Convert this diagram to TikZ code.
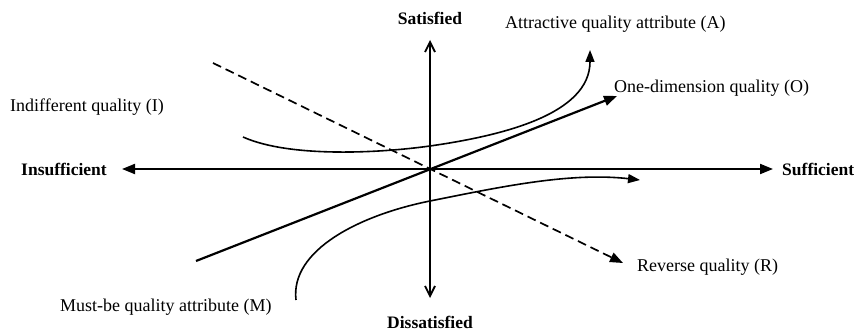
\documentclass[tikz,border=0pt]{standalone}
\usepackage{fontspec}
\setmainfont{Liberation Serif}
\usetikzlibrary{arrows.meta,positioning}

\begin{document}
\begin{tikzpicture}[x=1pt, y=-1pt, every node/.style={font=\fontsize{18}{21}\selectfont, inner sep=0pt},
    axislabel/.style={font=\fontsize{17.5}{21}\selectfont\bfseries},
    curve/.style={line width=1.6pt, -{Triangle[length=12pt,width=9pt]}}]
        \useasboundingbox (0,0) rectangle (858,331);
        % Axes
        \coordinate (o) at (430,169);
        \coordinate (left) at (122,169);
        \coordinate (right) at (773,169);
        \coordinate (top) at (430,40);
        \coordinate (bottom) at (430,298);
        \draw[line width=2pt, -{Triangle[length=13pt,width=10pt]}] (o) -- (left);
        \draw[line width=2pt, -{Triangle[length=13pt,width=10pt]}] (o) -- (right);
        \draw[line width=1.8pt, -{Straight Barb[length=10pt,width=10pt]}] (o) -- (top);
        \draw[line width=1.8pt, -{Straight Barb[length=10pt,width=10pt]}] (o) -- (bottom);
        \node[axislabel] (insuf) at (64,169) {Insufficient};
        \node[axislabel, anchor=west] (suf) at (782,169) {Sufficient};
        \node[axislabel] (sat) at (430,18) {Satisfied};
        \node[axislabel] (dissat) at (430,322) {Dissatisfied};
        % Labels
        \node[anchor=west] (indiff) at (10,107) {Indifferent quality (I)};
        \node[anchor=west] (attr) at (505,24) {Attractive quality attribute (A)};
        \node[anchor=west] (onedim) at (614,88) {One-dimension quality (O)};
        \node[anchor=west] (rev) at (637,267) {Reverse quality (R)};
        \node[anchor=west] (must) at (60,307) {Must-be quality attribute (M)};
        % Curves
        \coordinate (a0) at (243,137);
        \coordinate (a1) at (590,50);
        \draw[curve] (a0) .. controls (290,158) and (380,153) .. (430,146)
            .. controls (500,136) and (590,115) .. (a1);
        \coordinate (m0) at (296,300);
        \coordinate (m1) at (640,180);
        \draw[curve] (m0) .. controls (290,250) and (360,215) .. (430,201)
            .. controls (500,187) and (570,172) .. (m1);
        \coordinate (o0) at (196,261);
        \coordinate (o1) at (617,96);
        \draw[line width=2.2pt, -{Triangle[length=13pt,width=10pt]}] (o0) -- (o1);
        \coordinate (r0) at (213,63);
        \coordinate (r1) at (623,263);
        \draw[line width=1.7pt, dash pattern=on 9pt off 5pt, -{Triangle[length=13pt,width=10pt]}] (r0) -- (r1);
\end{tikzpicture}
\end{document}
